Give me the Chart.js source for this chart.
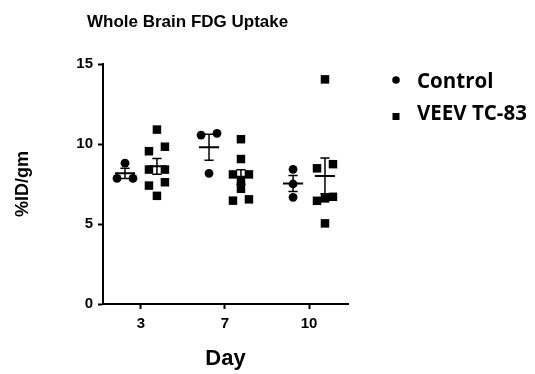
<!DOCTYPE html>
<html>
<head>
<meta charset="utf-8">
<script src="https://cdn.jsdelivr.net/npm/chart.js@4.4.1/dist/chart.umd.min.js"></script>
<style>
  html, body { margin: 0; padding: 0; background: #fff; }
  #wrap { width: 535px; height: 374px; position: relative; }
</style>
</head>
<body>
<div id="wrap"><canvas id="c" width="535" height="374"></canvas></div>
<script>
// ---- data ----
const days = ['3', '7', '10'];
const yTicks = [0, 5, 10, 15];
const controlDay3 = [8.8, 7.85, 7.85];
const controlDay7 = [10.56, 10.67, 8.17];
const controlDay10 = [8.42, 7.5, 6.67];
const veevDay3 = [10.9, 9.83, 9.55, 8.4, 8.4, 7.61, 7.4, 6.76];
const veevDay7 = [10.3, 9.06, 8.1, 8.1, 7.75, 7.2, 6.46, 6.54];
const veevDay10 = [14.04, 8.48, 8.74, 6.45, 6.6, 6.7, 5.04];
const seriesNames = ['Control', 'VEEV TC-83'];
const chartTitle = 'Whole Brain FDG Uptake';
const xTitle = 'Day';
const yTitle = '%ID/gm';

const controlGroups = [controlDay3, controlDay7, controlDay10];
const veevGroups = [veevDay3, veevDay7, veevDay10];

// ---- layout helpers (x in category-index units) ----
const GROUP_SHIFT = 0.19;
const SPREAD = 0.095;
const ROW_TOL = 0.3;
const MEAN_HALF = 0.12;
const CAP_HALF = 0.055;

function spreadPoints(values, center) {
  const order = values.map((v, i) => i).sort((a, b) => values[a] - values[b]);
  const rows = [];
  let cur = [order[0]];
  for (let k = 1; k < order.length; k++) {
    if (values[order[k]] - values[cur[cur.length - 1]] < ROW_TOL) cur.push(order[k]);
    else { rows.push(cur); cur = [order[k]]; }
  }
  rows.push(cur);
  const pts = [];
  rows.forEach(r => {
    const n = r.length;
    r.forEach((i, j) => {
      const off = n === 1 ? 0 : -SPREAD + j * (2 * SPREAD / (n - 1));
      pts.push({ x: center + off, y: values[i] });
    });
  });
  return pts;
}
function stats(values) {
  const n = values.length;
  const m = values.reduce((a, b) => a + b, 0) / n;
  const sd = Math.sqrt(values.reduce((a, b) => a + (b - m) * (b - m), 0) / (n - 1));
  return { mean: m, sem: sd / Math.sqrt(n) };
}

const controlPts = [], veevPts = [], meanSegs = [], barSegs = [];
function addGroup(values, center, target) {
  spreadPoints(values, center).forEach(p => target.push(p));
  const s = stats(values);
  meanSegs.push({ x: center - MEAN_HALF, y: s.mean }, { x: center + MEAN_HALF, y: s.mean }, { x: center, y: null });
  const lo = s.mean - s.sem, hi = s.mean + s.sem;
  barSegs.push({ x: center, y: lo }, { x: center, y: hi }, { x: center, y: null });
  barSegs.push({ x: center - CAP_HALF, y: hi }, { x: center + CAP_HALF, y: hi }, { x: center, y: null });
  barSegs.push({ x: center - CAP_HALF, y: lo }, { x: center + CAP_HALF, y: lo }, { x: center, y: null });
}
days.forEach((d, i) => {
  addGroup(controlGroups[i], i - GROUP_SHIFT, controlPts);
  addGroup(veevGroups[i], i + GROUP_SHIFT, veevPts);
});

const BOLD = 'Liberation Sans, Arial, sans-serif';

const overlay = {
  id: 'overlay',
  afterDraw(chart) {
    const ctx = chart.ctx;
    ctx.save();
    ctx.fillStyle = '#000';
    ctx.font = 'bold 17px ' + BOLD;
    ctx.textAlign = 'left';
    ctx.textBaseline = 'alphabetic';
    ctx.fillText(chartTitle, 87, 27);
    // legend
    ctx.font = 'bold 20.5px "Open Sans", sans-serif';
    ctx.textBaseline = 'middle';
    ctx.beginPath();
    ctx.arc(396, 80, 3.8, 0, Math.PI * 2);
    ctx.fill();
    ctx.fillText(seriesNames[0], 417, 82);
    ctx.fillRect(392.5, 113, 7, 7);
    ctx.fillText(seriesNames[1], 417, 114);
    ctx.restore();
  }
};

new Chart(document.getElementById('c'), {
  type: 'scatter',
  data: {
    datasets: [
      { label: 'mean', data: meanSegs, showLine: true, spanGaps: false, borderColor: '#000', borderWidth: 2, pointRadius: 0 },
      { label: 'sem', data: barSegs, showLine: true, spanGaps: false, borderColor: '#000', borderWidth: 1.5, pointRadius: 0 },
      { label: seriesNames[0], data: controlPts, pointStyle: 'circle', pointRadius: 4.4, backgroundColor: '#000', borderColor: '#000', borderWidth: 0 },
      { label: seriesNames[1], data: veevPts, pointStyle: 'rect', pointRadius: 6, backgroundColor: '#000', borderColor: '#000', borderWidth: 0 }
    ]
  },
  options: {
    responsive: false,
    animation: false,
    devicePixelRatio: 1,
    layout: { padding: { top: 64, right: 187, bottom: 0, left: 0 } },
    plugins: { legend: { display: false }, tooltip: { enabled: false }, title: { display: false } },
    scales: {
      x: {
        type: 'linear',
        min: -0.452, max: 2.464,
        afterBuildTicks: s => { s.ticks = days.map((d, i) => ({ value: i })); },
        afterFit: s => { s.height = 70; },
        ticks: { callback: v => days[v], color: '#000', font: { family: BOLD, size: 15, weight: 'bold' }, padding: 6, maxRotation: 0, autoSkip: false },
        grid: { drawOnChartArea: false, drawTicks: true, tickLength: 5, tickColor: '#000', tickWidth: 2 },
        border: { display: true, color: '#000', width: 2 },
        title: { display: true, text: xTitle, color: '#000', font: { family: BOLD, size: 22, weight: 'bold', lineHeight: 1.2 }, padding: { top: 0, bottom: 2 } }
      },
      y: {
        min: 0, max: 15,
        afterBuildTicks: s => { s.ticks = yTicks.map(v => ({ value: v })); },
        afterFit: s => { s.width = 103; },
        ticks: { color: '#000', font: { family: BOLD, size: 15, weight: 'bold' }, padding: 5 },
        grid: { drawOnChartArea: false, drawTicks: true, tickLength: 5, tickColor: '#000', tickWidth: 2 },
        border: { display: true, color: '#000', width: 2 },
        title: { display: true, text: yTitle, color: '#000', font: { family: BOLD, size: 18, weight: 'bold', lineHeight: 1.2 }, padding: { top: 12, bottom: 0 } }
      }
    }
  },
  plugins: [overlay]
});
</script>
</body>
</html>
